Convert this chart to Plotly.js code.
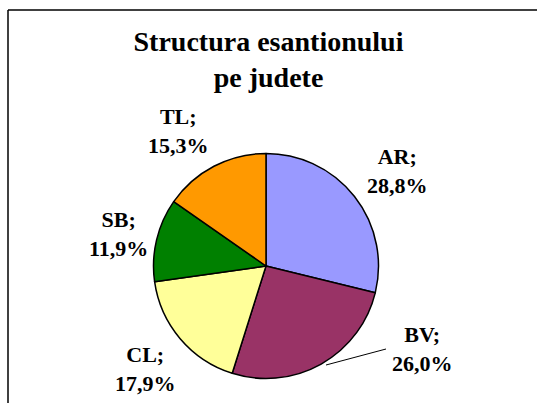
<!DOCTYPE html>
<html>
<head>
<meta charset="utf-8">
<script src="https://cdn.plot.ly/plotly-3.0.1.min.js"></script>
<style>html,body{margin:0;padding:0;background:#fff;}#chart{width:537px;height:403px;}</style>
</head>
<body>
<div id="chart"></div>
<script>
// Data
const categories = ["AR", "BV", "CL", "SB", "TL"];
const shares = [28.8, 26.0, 17.9, 11.9, 15.3];
const sliceColors = ["#9999FF", "#993366", "#FFFF99", "#008000", "#FF9900"];
const titleText = "Structura esantionului<br>pe judete";

// Layout helpers (pixel positions of outside labels, in a 537x403 canvas)
const W = 537, H = 403;
const labelPx = [[397, 171], [422, 349], [145, 369], [118, 234], [178, 131]];
const cx = 266, cy = 266, R = 112.5;

const fmt = v => v.toFixed(1).replace('.', ',') + '%';

const trace = {
  type: 'pie',
  labels: categories,
  values: shares,
  sort: false,
  direction: 'clockwise',
  rotation: 0,
  marker: { colors: sliceColors, line: { color: '#000', width: 1.5 } },
  textinfo: 'none',
  hoverinfo: 'label+percent',
  showlegend: false,
  domain: { x: [(cx - R) / W, (cx + R) / W], y: [(H - cy - R) / H, (H - cy + R) / H] }
};

const annotations = categories.map((c, i) => ({
  xref: 'paper', yref: 'paper',
  x: labelPx[i][0] / W, y: 1 - labelPx[i][1] / H,
  xanchor: 'center', yanchor: 'middle',
  text: '<b>' + c + ';<br>' + fmt(shares[i]) + '</b>',
  showarrow: false,
  align: 'center',
  font: { family: 'Liberation Serif, Times New Roman, serif', size: 22, color: '#000' }
}));

const layout = {
  width: W, height: H,
  margin: { l: 0, r: 0, t: 0, b: 0 },
  paper_bgcolor: '#fff',
  title: {
    text: '<b>' + titleText + '</b>',
    font: { family: 'Liberation Serif, Times New Roman, serif', size: 28, color: '#000' },
    x: 0.5, xanchor: 'center',
    y: 1 - 51 / H, yanchor: 'middle', yref: 'paper'
  },
  annotations: annotations,
  shapes: [
    { type: 'line', xref: 'paper', yref: 'paper', x0: 8 / W, x1: 1.01, y0: 1 - 10 / H, y1: 1 - 10 / H, line: { color: '#000', width: 1.5 } },
    { type: 'line', xref: 'paper', yref: 'paper', x0: 8 / W, x1: 8 / W, y0: 1 - 10 / H, y1: -0.01, line: { color: '#000', width: 1.5 } },
    { type: 'line', xref: 'paper', yref: 'paper', x0: 326 / W, y0: 1 - 365 / H, x1: 386 / W, y1: 1 - 349 / H, line: { color: '#000', width: 1 } }
  ]
};

Plotly.newPlot('chart', [trace], layout, { staticPlot: true, displayModeBar: false });
</script>
</body>
</html>
